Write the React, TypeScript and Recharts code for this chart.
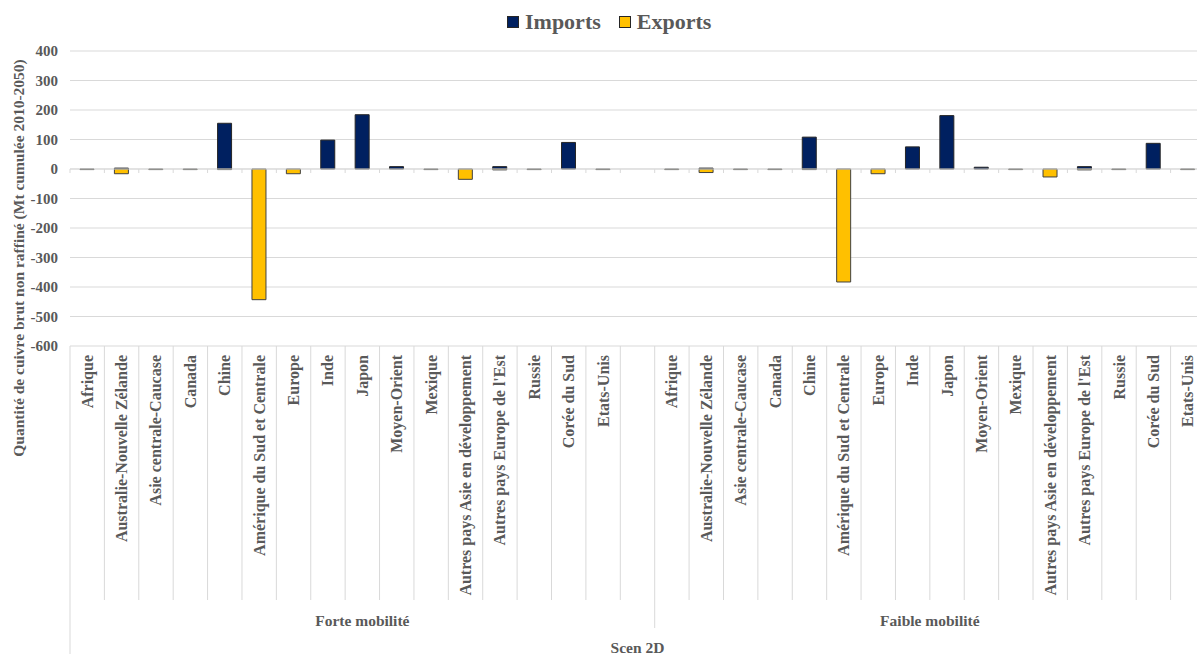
import React from 'react';
import {
  BarChart,
  Bar,
  XAxis,
  YAxis,
  CartesianGrid,
  Legend,
  ReferenceLine,
} from 'recharts';

// regions (same order in both scenarios)
const regions = [
  'Afrique',
  'Australie-Nouvelle Zélande',
  'Asie centrale-Caucase',
  'Canada',
  'Chine',
  'Amérique du Sud et Centrale',
  'Europe',
  'Inde',
  'Japon',
  'Moyen-Orient',
  'Mexique',
  'Autres pays Asie en développement',
  "Autres pays Europe de l'Est",
  'Russie',
  'Corée du Sud',
  'Etats-Unis',
];

const groups = ['Forte mobilité', 'Faible mobilité'];
const outerLabel = 'Scen 2D';

const importsForte = [0, 3, 0, 0, 155, 0, 0, 98, 184, 8, 0, 0, 8, 0, 90, 0];
const exportsForte = [-2, -16, -2, -2, -2, -443, -16, 0, 0, 0, -2, -35, -3, -2, 0, -2];
const importsFaible = [0, 3, 0, 0, 108, 0, 0, 75, 181, 6, 0, 0, 8, 0, 87, 0];
const exportsFaible = [-2, -12, -2, -2, -2, -383, -16, 0, 0, 0, -2, -27, -3, -2, 0, -2];

const yTicks = [400, 300, 200, 100, 0, -100, -200, -300, -400, -500, -600];

const data = [
  ...regions.map((name, i) => ({ name, imports: importsForte[i], exports: exportsForte[i] })),
  { name: ' ', imports: null, exports: null },
  ...regions.map((name, i) => ({ name, imports: importsFaible[i], exports: exportsFaible[i] })),
];

// layout
const W = 1205;
const H = 654;
const PLOT_LEFT = 70;
const PLOT_TOP = 51;
const PLOT_BOTTOM = 346;
const ZERO_Y = PLOT_TOP + (400 / 1000) * (PLOT_BOTTOM - PLOT_TOP);

const FONT = '"Liberation Serif", "Times New Roman", serif';
const GREY = '#595959';
const LINE = '#d9d9d9';
const NAVY = '#002060';
const GOLD = '#FFC000';

const bw = (W - PLOT_LEFT) / data.length;
const faibleStart = regions.length + 1;

const CategoryTick = (props: any) => {
  const { x, payload, index } = props;
  const left = x - bw / 2;
  let end = 600;
  if (index === 0) end = H;
  else if (index === faibleStart) end = 628;
  return (
    <g>
      <line x1={left} x2={left} y1={PLOT_BOTTOM} y2={end} stroke={LINE} />
      <line x1={left} x2={left} y1={ZERO_Y} y2={ZERO_Y + 4} stroke={LINE} />
      <text
        transform={`translate(${x},${PLOT_BOTTOM + 9}) rotate(-90)`}
        textAnchor="end"
        dominantBaseline="central"
        fontFamily={FONT}
        fontWeight="bold"
        fontSize={16}
        fill={GREY}
      >
        {payload.value}
      </text>
      {index === 0 && (
        <>
          <text x={left + (faibleStart * bw) / 2} y={620} textAnchor="middle" dominantBaseline="central"
            fontFamily={FONT} fontWeight="bold" fontSize={15.5} fill={GREY}>
            {groups[0]}
          </text>
          <text x={left + (data.length * bw) / 2} y={647} textAnchor="middle" dominantBaseline="central"
            fontFamily={FONT} fontWeight="bold" fontSize={15.5} fill={GREY}>
            {outerLabel}
          </text>
        </>
      )}
      {index === faibleStart && (
        <text x={left + (regions.length * bw) / 2} y={620} textAnchor="middle" dominantBaseline="central"
          fontFamily={FONT} fontWeight="bold" fontSize={15.5} fill={GREY}>
          {groups[1]}
        </text>
      )}
    </g>
  );
};

const LegendContent = () => (
  <div style={{ display: 'flex', alignItems: 'center', fontFamily: FONT, fontWeight: 'bold', fontSize: 22, color: GREY }}>
    <span style={{ width: 10, height: 10, background: NAVY, border: '1px solid #262626', display: 'inline-block' }} />
    <span style={{ marginLeft: 6 }}>Imports</span>
    <span style={{ width: 10, height: 10, background: GOLD, border: '1px solid #262626', display: 'inline-block', marginLeft: 18 }} />
    <span style={{ marginLeft: 6 }}>Exports</span>
  </div>
);

export default function App() {
  return (
    <div style={{ position: 'absolute', left: 0, top: 0, width: 1197, height: H, overflow: 'hidden', background: '#fff' }}>
      <BarChart
        width={W}
        height={H}
        data={data}
        stackOffset="sign"
        margin={{ top: PLOT_TOP, right: 0, bottom: 0, left: 0 }}
      >
        <CartesianGrid vertical={false} stroke={LINE} />
        <XAxis
          dataKey="name"
          interval={0}
          height={H - PLOT_BOTTOM}
          tickLine={false}
          axisLine={false}
          tick={<CategoryTick />}
        />
        <YAxis
          width={PLOT_LEFT}
          domain={[-600, 400]}
          ticks={yTicks}
          interval={0}
          tickLine={false}
          axisLine={false}
          tick={{ fill: GREY, fontFamily: FONT, fontWeight: 'bold', fontSize: 15 }}
          tickMargin={6}
          label={{
            content: () => (
              <text
                transform={`translate(18,258) rotate(-90)`}
                textAnchor="middle"
                dominantBaseline="central"
                fontFamily={FONT}
                fontWeight="bold"
                fontSize={15.5}
                fill={GREY}
              >
                Quantité de cuivre brut non raffiné (Mt cumulée 2010-2050)
              </text>
            ),
          }}
        />
        <ReferenceLine y={0} stroke={LINE} />
        <Legend
          verticalAlign="middle"
          align="center"
          layout="horizontal"
          content={<LegendContent />}
          wrapperStyle={{ top: 9, left: 507, width: 'auto', height: 'auto' }}
        />
        <Bar dataKey="imports" name="Imports" stackId="a" fill={NAVY} stroke="#262626" strokeWidth={1} barSize={14} isAnimationActive={false} />
        <Bar dataKey="exports" name="Exports" stackId="a" fill={GOLD} stroke="#404040" strokeWidth={1} barSize={14} isAnimationActive={false} />
      </BarChart>
    </div>
  );
}
